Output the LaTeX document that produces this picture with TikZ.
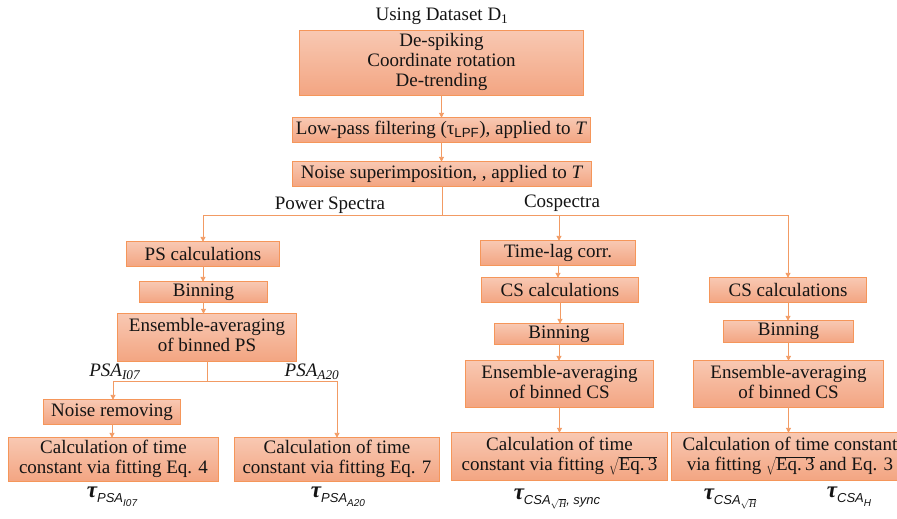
\documentclass[tikz,border=0pt]{standalone}
\usepackage{fontspec}
\setmainfont{Liberation Serif}
\newfontfamily\subsans{Liberation Sans}
\newfontfamily\boxserif{Liberation Serif}
\usetikzlibrary{arrows.meta,backgrounds}
\definecolor{boxtop}{RGB}{248,200,178}
\definecolor{boxbot}{RGB}{243,165,130}
\definecolor{boxline}{RGB}{245,150,90}
\definecolor{conn}{RGB}{242,155,100}
\definecolor{ink}{RGB}{20,20,20}
\newcommand{\taubase}{{\fontsize{23}{23}\selectfont\bfseries\itshape τ}}
\newcommand{\subA}[1]{\raisebox{-5pt}{\fontsize{13}{13}\selectfont\subsans\itshape #1}}
\newcommand{\subB}[1]{\raisebox{-4pt}{\fontsize{10}{10}\selectfont\subsans\itshape #1}}
\newcommand{\lines}[1]{\begin{tabular}{@{}c@{}}#1\end{tabular}}
\tikzset{
  box/.style={inner sep=0pt, text=ink, font=\boxserif\fontsize{19}{20}\selectfont},
  boxshade/.style={top color=boxtop, bottom color=boxbot, draw=boxline, line width=0.9pt},
  lbl/.style={inner sep=0pt, text=ink, font=\fontsize{19}{20}\selectfont},
  taulbl/.style={inner sep=0pt, text=ink, font=\fontsize{19}{20}\selectfont},
  conline/.style={draw=conn, line width=0.9pt},
  arr/.style={conline, -{Triangle[width=5pt,length=5pt]}}
}
\begin{document}
\begin{tikzpicture}[x=1pt,y=-1pt]
\useasboundingbox (0,0) rectangle (897,519);
\clip (0,0) rectangle (897,519);
% title
\node[lbl] (title) at (442,16) {Using Dataset D\textsubscript{1}};
% main chain
\node[box, minimum width=283, minimum height=64] (b1) at (441.5,63) {\lines{De-spiking\\Coordinate rotation\\De-trending}};
\node[box, minimum width=297, minimum height=24] (b2) at (441.5,130) {Low-pass filtering (τ\textsubscript{\subsans LPF}), applied to \textit{T}};
\node[box, minimum width=298, minimum height=24] (b3) at (442,174) {Noise superimposition, , applied to \textit{T}};
% power spectra branch
\node[box, minimum width=152, minimum height=24] (ps) at (203,254) {PS calculations};
\node[box, minimum width=127, minimum height=20] (bin1) at (203.5,292) {Binning};
\node[box, minimum width=178, minimum height=47] (ens1) at (207,337.5) {\lines{Ensemble-averaging\\of binned PS}};
\node[box, minimum width=136, minimum height=24] (noise) at (112,412) {Noise removing};
\node[box, minimum width=209, minimum height=43] (calc1) at (113.5,459.5) {\lines{Calculation of time\\constant via fitting Eq. 4}};
\node[box, minimum width=205, minimum height=43] (calc2) at (337,459.5) {\lines{Calculation of time\\constant via fitting Eq. 7}};
% cospectra middle
\node[box, minimum width=154, minimum height=24] (tl) at (558,253) {Time-lag corr.};
\node[box, minimum width=156, minimum height=24] (cs1) at (560,290) {CS calculations};
\node[box, minimum width=128, minimum height=20] (bin2) at (559,334) {Binning};
\node[box, minimum width=187, minimum height=46] (ens2) at (559.5,384) {\lines{Ensemble-averaging\\of binned CS}};
\node[box, minimum width=216, minimum height=47] (calc3) at (559.5,456.5) {\lines{Calculation of time\\constant via fitting $\sqrt{\vphantom{Ig}\mbox{Eq.\,3}}$}};
% cospectra right
\node[box, minimum width=156, minimum height=24] (cs2) at (788,290) {CS calculations};
\node[box, minimum width=129, minimum height=21] (bin3) at (788.5,331.5) {Binning};
\node[box, minimum width=189, minimum height=46] (ens3) at (788.5,384) {\lines{Ensemble-averaging\\of binned CS}};
\node[box, minimum width=236, minimum height=47] (calc4) at (790,456.5) {\lines{Calculation of time constant\\via fitting $\sqrt{\vphantom{Ig}\mbox{Eq.\,3}}$ and Eq. 3}};
% shaded, outlined rectangles behind the box texts
\begin{scope}[on background layer]
\foreach \n in {b1,b2,b3,ps,bin1,ens1,noise,calc1,calc2,tl,cs1,bin2,ens2,calc3,cs2,bin3,ens3,calc4}{
  \path[boxshade] (\n.north west) rectangle (\n.south east);
}
\end{scope}
% labels
\node[lbl] (lps) at (330,205) {Power Spectra};
\node[lbl] (lcs) at (562,203) {Cospectra};
\node[lbl] (lpi) at (115,372) {\textit{PSA}\textsubscript{\textit{I07}}};
\node[lbl] (lpa) at (312,372) {\textit{PSA}\textsubscript{\textit{A20}}};
\node[taulbl] (t1) at (112,497) {\taubase\subA{PSA\subB{I07}}};
\node[taulbl] (t2) at (338,497) {\taubase\subA{PSA\subB{A20}}};
\node[taulbl] (t3) at (557,499) {\taubase\subA{CSA\raisebox{-3pt}{\fontsize{10}{10}\selectfont$\sqrt{\mathit{H}}$}, sync}};
\node[taulbl] (t4) at (730,499) {\taubase\subA{CSA\raisebox{-3pt}{\fontsize{10}{10}\selectfont$\sqrt{\mathit{H}}$}}};
\node[taulbl] (t5) at (849,497) {\taubase\subA{CSA\subB{H}}};
% junctions
\coordinate (j1) at (442,215);
\coordinate (jL) at (203,215);
\coordinate (jM) at (559,215);
\coordinate (jR) at (788,215);
\coordinate (k1) at (207,381);
\coordinate (kL) at (113,381);
\coordinate (kR) at (337,381);
% connectors
\draw[arr] (b1.south) -- (b1.south |- b2.north);
\draw[arr] (b2.south) -- (b2.south |- b3.north);
\draw[conline] (b3.south) -- (j1);
\draw[conline] (jL) -- (jR);
\draw[arr] (jL) -- (jL |- ps.north);
\draw[arr] (jM) -- (jM |- tl.north);
\draw[arr] (jR) -- (jR |- cs2.north);
\draw[arr] (ps.south) -- (ps.south |- bin1.north);
\draw[arr] (bin1.south) -- (bin1.south |- ens1.north);
\draw[conline] (ens1.south) -- (k1);
\draw[conline] (kL) -- (kR);
\draw[arr] (kL) -- (kL |- noise.north);
\draw[arr] (kR) -- (kR |- calc2.north);
\draw[arr] (noise.south) -- (noise.south |- calc1.north);
\draw[arr] (tl.south) -- (tl.south |- cs1.north);
\draw[arr] (cs1.south) -- (cs1.south |- bin2.north);
\draw[arr] (bin2.south) -- (bin2.south |- ens2.north);
\draw[arr] (ens2.south) -- (ens2.south |- calc3.north);
\draw[arr] (cs2.south) -- (cs2.south |- bin3.north);
\draw[arr] (bin3.south) -- (bin3.south |- ens3.north);
\draw[arr] (ens3.south) -- (ens3.south |- calc4.north);
\end{tikzpicture}
\end{document}
